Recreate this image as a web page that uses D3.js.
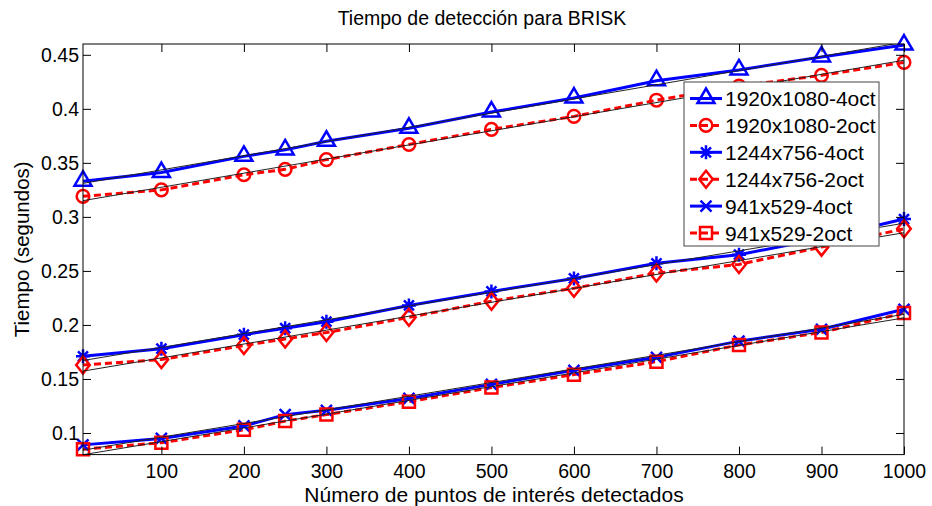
<!DOCTYPE html>
<html>
<head>
<meta charset="utf-8">
<script src="https://cdn.jsdelivr.net/npm/d3@7"></script>
<style>
  body { margin: 0; background: #fff; }
  text { font-family: "Liberation Sans", Arial, sans-serif; fill: #000; }
</style>
</head>
<body>
<div id="chart"></div>
<script>
// number of detected points (x) and detection time in seconds per configuration
const puntos = [5, 100, 200, 250, 300, 400, 500, 600, 700, 800, 900, 1000];
const s1920x4 = [0.333, 0.341, 0.356, 0.362, 0.370, 0.382, 0.397, 0.410, 0.426, 0.436, 0.448, 0.459];
const s1920x2 = [0.319, 0.325, 0.339, 0.344, 0.353, 0.367, 0.381, 0.393, 0.408, 0.421, 0.431, 0.443];
const s1244x4 = [0.171, 0.178, 0.191, 0.197, 0.203, 0.218, 0.231, 0.243, 0.257, 0.265, 0.280, 0.298];
const s1244x2 = [0.163, 0.168, 0.181, 0.187, 0.193, 0.207, 0.222, 0.234, 0.248, 0.256, 0.272, 0.289];
const s941x4 = [0.089, 0.095, 0.1065, 0.117, 0.121, 0.132, 0.145, 0.158, 0.170, 0.185, 0.196, 0.2145];
const s941x2 = [0.085, 0.091, 0.103, 0.111, 0.117, 0.129, 0.142, 0.154, 0.166, 0.1815, 0.193, 0.211];

const xTicks = [100, 200, 300, 400, 500, 600, 700, 800, 900, 1000];
const yTicks = [0.1, 0.15, 0.2, 0.25, 0.3, 0.35, 0.4, 0.45];
const labels = ['1920x1080-4oct', '1920x1080-2oct', '1244x756-4oct', '1244x756-2oct', '941x529-4oct', '941x529-2oct'];

const series = [
  { name: labels[0], values: s1920x4, color: '#0000ff', dash: null, marker: 'triangle' },
  { name: labels[1], values: s1920x2, color: '#ff0000', dash: '7,4', marker: 'circle' },
  { name: labels[2], values: s1244x4, color: '#0000ff', dash: null, marker: 'star' },
  { name: labels[3], values: s1244x2, color: '#ff0000', dash: '7,4', marker: 'diamond' },
  { name: labels[4], values: s941x4, color: '#0000ff', dash: null, marker: 'cross' },
  { name: labels[5], values: s941x2, color: '#ff0000', dash: '7,4', marker: 'square' }
];

const W = 932, H = 506;
const mLeft = 83, mRight = 904, mTop = 44, mBottom = 454.6;

const x = d3.scaleLinear().domain([5, 1000]).range([mLeft, mRight]);
const y = d3.scaleLinear().domain([0.08, 0.46]).range([mBottom, mTop]);

const svg = d3.select('#chart').append('svg')
  .attr('width', W)
  .attr('height', H);

// marker path strings, centred on 0,0
function markerPath(type) {
  switch (type) {
    case 'triangle': return 'M0,-10L8.5,4.5L-8.5,4.5Z';
    case 'circle': return d3.symbol(d3.symbolCircle, Math.PI * 6.3 * 6.3)();
    case 'diamond': return 'M0,-8.5L6.8,0L0,8.5L-6.8,0Z';
    case 'square': return 'M-6,-6L6,-6L6,6L-6,6Z';
    case 'cross': return 'M-5.5,-5.5L5.5,5.5M-5.5,5.5L5.5,-5.5';
    case 'star': return 'M0,-7L0,7M-7,0L7,0M-5,-5L5,5M-5,5L5,-5';
  }
}

svg.append('clipPath').attr('id', 'plot-clip')
  .append('rect')
  .attr('x', mLeft).attr('y', mTop)
  .attr('width', mRight - mLeft).attr('height', mBottom - mTop);

const line = d3.line()
  .x((d, i) => x(puntos[i]))
  .y((d) => y(d));

const plot = svg.append('g');

// data lines
series.forEach((s) => {
  plot.append('path')
    .datum(s.values)
    .attr('fill', 'none')
    .attr('stroke', s.color)
    .attr('stroke-width', 3)
    .attr('stroke-dasharray', s.dash)
    .attr('d', line);
});

// markers
series.forEach((s) => {
  plot.append('g')
    .selectAll('path')
    .data(s.values)
    .join('path')
    .attr('transform', (d, i) => `translate(${x(puntos[i])},${y(d)})`)
    .attr('d', markerPath(s.marker))
    .attr('fill', 'none')
    .attr('stroke', s.color)
    .attr('stroke-width', 2.5);
});

// least squares fit for each series (thin black line)
series.forEach((s) => {
  const mx = d3.mean(puntos), my = d3.mean(s.values);
  const num = d3.sum(puntos, (p, i) => (p - mx) * (s.values[i] - my));
  const den = d3.sum(puntos, (p) => (p - mx) * (p - mx));
  const b = num / den, a = my - b * mx;
  const ends = [puntos[0], puntos[puntos.length - 1]];
  plot.append('path')
    .datum(ends)
    .attr('fill', 'none')
    .attr('stroke', '#222')
    .attr('stroke-width', 1)
    .attr('clip-path', 'url(#plot-clip)')
    .attr('d', d3.line().x((p) => x(p)).y((p) => y(a + b * p)));
});

// axes (ticks inside, box all round)
const fontSize = '19.5px';

svg.append('g')
  .attr('transform', `translate(0,${mBottom})`)
  .call(d3.axisBottom(x).tickValues(xTicks).tickSize(-8).tickPadding(10).tickFormat(d3.format('d')));
svg.append('g')
  .attr('transform', `translate(${mLeft},0)`)
  .call(d3.axisLeft(y).tickValues(yTicks).tickSize(-8).tickPadding(4).tickFormat((d) => String(+d.toFixed(2))));
svg.append('g')
  .attr('transform', `translate(0,${mTop})`)
  .call(d3.axisTop(x).tickValues(xTicks).tickSize(-8).tickFormat(''));
svg.append('g')
  .attr('transform', `translate(${mRight},0)`)
  .call(d3.axisRight(y).tickValues(yTicks).tickSize(-8).tickFormat(''));

svg.selectAll('.domain').remove();
svg.selectAll('.tick line').attr('stroke', '#000');
svg.selectAll('.tick text')
  .attr('font-size', fontSize)
  .attr('font-family', '"Liberation Sans", Arial, sans-serif');

svg.append('rect')
  .attr('x', mLeft).attr('y', mTop)
  .attr('width', mRight - mLeft).attr('height', mBottom - mTop)
  .attr('fill', 'none')
  .attr('stroke', '#000')
  .attr('stroke-width', 1);

// titles
svg.append('text')
  .attr('x', 482)
  .attr('y', 25)
  .attr('text-anchor', 'middle')
  .attr('font-size', fontSize)
  .text('Tiempo de detección para BRISK');

svg.append('text')
  .attr('x', 494)
  .attr('y', 502)
  .attr('text-anchor', 'middle')
  .attr('font-size', '21px')
  .text('Número de puntos de interés detectados');

svg.append('text')
  .attr('transform', `translate(29,${(mTop + mBottom) / 2}) rotate(-90)`)
  .attr('text-anchor', 'middle')
  .attr('font-size', '20.5px')
  .text('Tiempo (segundos)');

// legend
const legend = svg.append('g').attr('transform', 'translate(684,82)');
legend.append('rect')
  .attr('width', 195)
  .attr('height', 164)
  .attr('fill', '#fff')
  .attr('stroke', '#444')
  .attr('stroke-width', 1);

series.forEach((s, i) => {
  const row = legend.append('g').attr('transform', `translate(0,${16.5 + i * 26.9})`);
  row.append('line')
    .attr('x1', 6).attr('x2', 38)
    .attr('stroke', s.color)
    .attr('stroke-width', 3)
    .attr('stroke-dasharray', s.dash);
  row.append('path')
    .attr('transform', 'translate(22,0)')
    .attr('d', markerPath(s.marker))
    .attr('fill', 'none')
    .attr('stroke', s.color)
    .attr('stroke-width', 2.5);
  row.append('text')
    .attr('x', 41)
    .attr('y', 7.5)
    .attr('font-size', '21px')
    .text(s.name);
});
</script>
</body>
</html>
